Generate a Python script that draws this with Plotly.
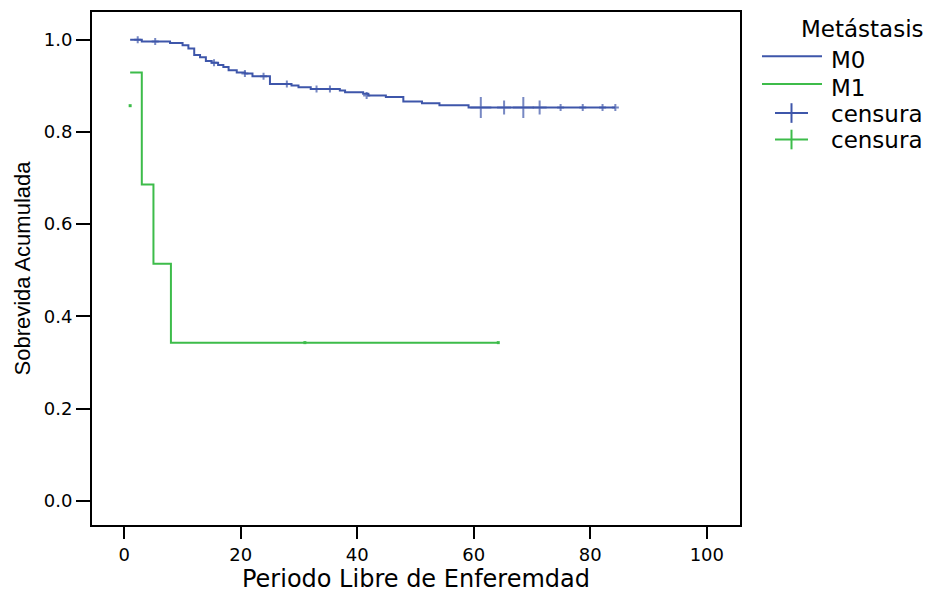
import plotly.graph_objects as go

# ---------------- data ----------------
m0_time = [1.0, 3.0, 7.85, 10.0, 11.0, 12.0, 13.0, 14.0, 15.0, 16.1, 17.0, 17.9,
           19.3, 20.7, 22.0, 25.0, 28.7, 29.9, 32.0, 37.0, 37.9, 41.0, 41.9,
           44.9, 47.9, 51.1, 54.1, 59.1, 84.3]
m0_surv = [1.000, 0.996, 0.993, 0.988, 0.981, 0.967, 0.962, 0.954, 0.950, 0.945,
           0.941, 0.934, 0.929, 0.927, 0.921, 0.904, 0.901, 0.897, 0.893, 0.890,
           0.886, 0.883, 0.879, 0.876, 0.866, 0.862, 0.858, 0.853, 0.853]

m0_cens_time = [2.3, 5.3, 15.4, 20.7, 23.9, 27.9, 33.0, 35.3, 41.6,
                61.2, 65.2, 68.5, 71.3, 74.9, 78.7, 82.1, 84.3]
m0_cens_surv = [1.000, 0.996, 0.950, 0.927, 0.921, 0.904, 0.893, 0.893, 0.879,
                0.853, 0.853, 0.853, 0.853, 0.853, 0.853, 0.853, 0.853]
m0_cens_count = [1, 1, 1, 1, 1, 1, 1, 1, 1, 3, 2, 3, 2, 1, 1, 1, 1]

m1_time = [1.0, 3.0, 5.0, 8.0, 64.2]
m1_surv = [0.929, 0.686, 0.514, 0.343, 0.343]
m1_cens_time = [1.0, 31.0, 64.2]
m1_cens_surv = [0.857, 0.343, 0.343]
m1_cens_count = [1, 1, 1]

x_ticks = [0, 20, 40, 60, 80, 100]
y_ticks = [0.0, 0.2, 0.4, 0.6, 0.8, 1.0]

group_names = ["M0", "M1"]
censor_label = "censura"
legend_title = "Metástasis"
x_title = "Periodo Libre de Enferemdad"
y_title = "Sobrevida Acumulada"

BLUE = "#3E56AA"
GREEN = "#3DBC4A"

# ---------------- layout geometry ----------------
W, H = 930, 595
ML, MR, MT, MB = 92, 190, 10, 62
PW, PH = W - ML - MR, H - MT - MB


def px2x(px):
    return (px - ML) / PW


def py2y(py):
    return (H - MB - py) / PH


size_map = {1: 5, 2: 10, 3: 15}

fig = go.Figure()
fig.add_trace(go.Scatter(x=m0_time, y=m0_surv, mode="lines", line_shape="hv",
                         line=dict(color=BLUE, width=2), showlegend=False,
                         hoverinfo="x+y"))
fig.add_trace(go.Scatter(x=m1_time, y=m1_surv, mode="lines", line_shape="hv",
                         line=dict(color=GREEN, width=2), showlegend=False,
                         hoverinfo="x+y"))
fig.add_trace(go.Scatter(x=m0_cens_time, y=m0_cens_surv, mode="markers",
                         marker=dict(symbol="cross-thin", size=[size_map[c] for c in m0_cens_count],
                                     line=dict(color=BLUE, width=2), color=BLUE),
                         showlegend=False))
fig.add_trace(go.Scatter(x=m1_cens_time, y=m1_cens_surv, mode="markers",
                         marker=dict(symbol="square", size=3, color=GREEN,
                                     line=dict(width=0)),
                         showlegend=False))

# ---------------- manual legend ----------------
LEG_FONT = dict(family="DejaVu Sans", size=23, color="black")
shapes = []
annotations = []
annotations.append(dict(x=px2x(926), y=py2y(27.5), xref="paper", yref="paper",
                        text=legend_title, showarrow=False, xanchor="right",
                        yanchor="middle", font=LEG_FONT))
line_rows = [(55, 58.5, BLUE, group_names[0]), (83.5, 87, GREEN, group_names[1])]
for ly, ty, col, name in line_rows:
    shapes.append(dict(type="line", xref="paper", yref="paper",
                       x0=px2x(762), x1=px2x(822), y0=py2y(ly), y1=py2y(ly),
                       line=dict(color=col, width=2)))
    annotations.append(dict(x=px2x(829), y=py2y(ty), xref="paper", yref="paper",
                            text=name, showarrow=False, xanchor="left",
                            yanchor="middle", font=LEG_FONT))
cross_rows = [(113, BLUE), (140, GREEN)]
for cy, col in cross_rows:
    shapes.append(dict(type="line", xref="paper", yref="paper",
                       x0=px2x(775), x1=px2x(808), y0=py2y(cy), y1=py2y(cy),
                       line=dict(color=col, width=2)))
    shapes.append(dict(type="line", xref="paper", yref="paper",
                       x0=px2x(791.5), x1=px2x(791.5), y0=py2y(cy - 10), y1=py2y(cy + 10),
                       line=dict(color=col, width=2)))
    annotations.append(dict(x=px2x(829), y=py2y(cy + 1), xref="paper", yref="paper",
                            text=censor_label, showarrow=False, xanchor="left",
                            yanchor="middle", font=LEG_FONT))

fig.update_layout(
    width=W, height=H,
    margin=dict(l=ML, r=MR, t=MT, b=MB, pad=0),
    paper_bgcolor="white", plot_bgcolor="white",
    showlegend=False,
    shapes=shapes, annotations=annotations,
    xaxis=dict(range=[-5.55, 105.7], tickvals=x_ticks, ticks="outside",
               ticklen=12, tickwidth=2, tickcolor="black",
               showline=True, mirror=True, linecolor="black", linewidth=2,
               showgrid=False, zeroline=False,
               tickfont=dict(family="DejaVu Sans", size=18, color="black"),
               title=dict(text=x_title, standoff=4,
                          font=dict(family="DejaVu Sans", size=24, color="black"))),
    yaxis=dict(range=[-0.0526, 1.0602], tickvals=y_ticks, tickformat=".1f",
               ticks="outside", ticklen=14, tickwidth=2, tickcolor="black",
               showline=True, mirror=True, linecolor="black", linewidth=2,
               showgrid=False, zeroline=False,
               tickfont=dict(family="DejaVu Sans", size=18, color="black"),
               title=dict(text=y_title, standoff=7,
                          font=dict(family="Liberation Sans", size=22, color="black"))),
)

fig.write_html("out.html")
